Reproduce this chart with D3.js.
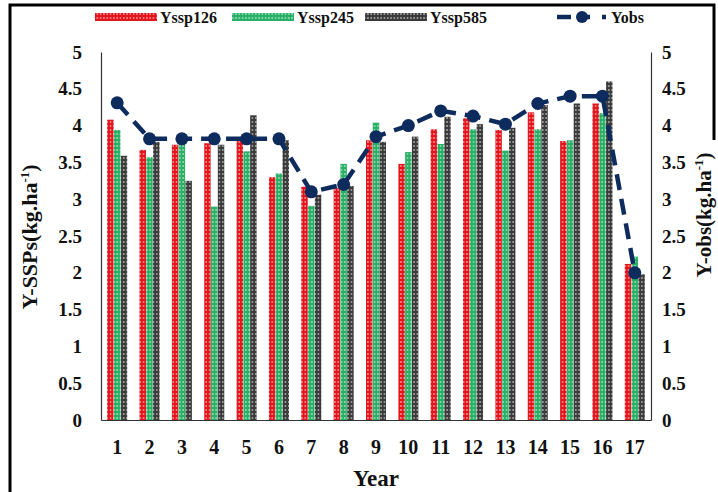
<!DOCTYPE html>
<html lang="en">
<head>
<meta charset="utf-8">
<title>Yield SSPs vs observed</title>
<script src="https://cdn.jsdelivr.net/npm/d3@7"></script>
<style>
  body { margin: 0; background: #fff; }
  svg text { font-family: "Liberation Serif", "Times New Roman", serif; font-weight: bold; fill: #111; }
</style>
</head>
<body>
<script>
// data
var years = ["1","2","3","4","5","6","7","8","9","10","11","12","13","14","15","16","17"];
var ssp126 = [4.08,3.67,3.74,3.76,3.79,3.30,3.17,3.15,3.80,3.48,3.95,4.10,3.94,4.18,3.79,4.30,2.12];
var ssp245 = [3.94,3.57,3.76,2.90,3.65,3.35,2.91,3.48,4.04,3.64,3.75,3.95,3.66,3.95,3.80,4.17,2.22];
var ssp585 = [3.59,3.78,3.25,3.74,4.14,3.80,3.06,3.18,3.78,3.85,4.12,4.02,3.97,4.28,4.30,4.60,1.98];
var yobs   = [4.31,3.82,3.82,3.82,3.82,3.82,3.10,3.20,3.85,4.00,4.20,4.13,4.02,4.30,4.40,4.40,2.00];
var seriesNames = ["Yssp126","Yssp245","Yssp585"];
var yTicks = [0,0.5,1,1.5,2,2.5,3,3.5,4,4.5,5];

var w = 718, h = 492;
var pLeft = 101, pRight = 651, pTop = 52, pBottom = 420;

var svg = d3.select("body").append("svg")
    .attr("width", w)
    .attr("height", h);

// patterned fills
var defs = svg.append("defs");
function dotPattern(id, base, dot) {
    var p = defs.append("pattern")
        .attr("id", id)
        .attr("patternUnits", "userSpaceOnUse")
        .attr("width", 3.3)
        .attr("height", 4);
    p.append("rect").attr("width", 3.3).attr("height", 4).attr("fill", base);
    p.append("circle").attr("cx", 1.65).attr("cy", 2).attr("r", 0.8).attr("fill", dot);
}
dotPattern("pRed", "#e3161d", "#ffd5d5");
dotPattern("pGreen", "#27b066", "#d8f5e2");
dotPattern("pDark", "#3b3b3b", "#e6e6e6");
var fills = ["url(#pRed)", "url(#pGreen)", "url(#pDark)"];

// outer frame (top, left, right part)
svg.append("path")
    .attr("d", "M10,492 L10,5 L714,5 L714,140")
    .attr("fill", "none")
    .attr("stroke", "#000")
    .attr("stroke-width", 3);

var x0 = d3.scaleBand().domain(years).range([pLeft, pRight]).paddingInner(0.36).paddingOuter(0.18);
var x1 = d3.scaleBand().domain(seriesNames).range([0, x0.bandwidth()]).padding(0.05);
var y = d3.scaleLinear().domain([0, 5]).range([pBottom, pTop]);
var yR = d3.scaleLinear().domain([0, 5]).range([pBottom, pTop]);

var allSeries = [ssp126, ssp245, ssp585];

// bars
allSeries.forEach(function(vals, s) {
    svg.append("g").selectAll("rect")
        .data(vals)
        .enter()
        .append("rect")
        .attr("x", function(d, i){ return x0(years[i]) + x1(seriesNames[s]); })
        .attr("y", function(d){ return y(d); })
        .attr("width", x1.bandwidth())
        .attr("height", function(d){ return pBottom - y(d); })
        .attr("fill", fills[s]);
});

// axes
var fmt = function(d){ return String(d); };
var gL = svg.append("g").attr("transform", "translate(" + pLeft + ",0)")
    .call(d3.axisLeft(y).tickValues(yTicks).tickFormat(fmt).tickSize(0).tickPadding(19));
var gR = svg.append("g").attr("transform", "translate(" + pRight + ",0)")
    .call(d3.axisRight(yR).tickValues(yTicks).tickFormat(fmt).tickSize(0).tickPadding(11));
var gB = svg.append("g").attr("transform", "translate(0," + pBottom + ")")
    .call(d3.axisBottom(x0).tickSize(0).tickPadding(20));
[gL, gR, gB].forEach(function(g) {
    g.select(".domain").attr("stroke", "#333").attr("stroke-width", 1.2);
    g.selectAll("text")
        .style("font-family", "'Liberation Serif', serif")
        .style("font-weight", "bold")
        .style("font-size", "19px")
        .attr("fill", "#111");
});
gB.selectAll("text").style("font-size", "20px");

// Yobs line
var line = d3.line()
    .x(function(d, i){ return x0(years[i]) + x0.bandwidth() / 2; })
    .y(function(d){ return yR(d); });
svg.append("path")
    .datum(yobs)
    .attr("d", line)
    .attr("fill", "none")
    .attr("stroke", "#0e2b5e")
    .attr("stroke-width", 4.5)
    .attr("stroke-dasharray", "16,9");
svg.append("g").selectAll("circle")
    .data(yobs)
    .enter()
    .append("circle")
    .attr("cx", function(d, i){ return x0(years[i]) + x0.bandwidth() / 2; })
    .attr("cy", function(d){ return yR(d); })
    .attr("r", 6.5)
    .attr("fill", "#0e2b5e");

// axis titles
var tl = svg.append("text")
    .attr("transform", "translate(37,237) rotate(-90)")
    .attr("text-anchor", "middle")
    .style("font-size", "22px");
tl.append("tspan").text("Y-SSPs(kg.ha");
tl.append("tspan").attr("dy", -8).style("font-size", "13px").text("-1");
tl.append("tspan").attr("dy", 8).text(")");

var tr = svg.append("text")
    .attr("transform", "translate(711,215) rotate(-90)")
    .attr("text-anchor", "middle")
    .style("font-size", "21px");
tr.append("tspan").text("Y-obs(kg.ha");
tr.append("tspan").attr("dy", -8).style("font-size", "13px").text("-1");
tr.append("tspan").attr("dy", 8).text(")");

svg.append("text")
    .attr("x", 376)
    .attr("y", 486)
    .attr("text-anchor", "middle")
    .style("font-size", "23px")
    .text("Year");

// legend
var legX = [95, 232, 365];
seriesNames.forEach(function(name, s) {
    svg.append("rect")
        .attr("x", legX[s])
        .attr("y", 13)
        .attr("width", 62)
        .attr("height", 8)
        .attr("fill", fills[s]);
    svg.append("text")
        .attr("x", legX[s] + 65)
        .attr("y", 23)
        .style("font-size", "16px")
        .text(name);
});
svg.append("line")
    .attr("x1", 557).attr("x2", 607)
    .attr("y1", 17).attr("y2", 17)
    .attr("stroke", "#0e2b5e")
    .attr("stroke-width", 4.5)
    .attr("stroke-dasharray", "14,9,10,12,4");
svg.append("circle")
    .attr("cx", 582).attr("cy", 17).attr("r", 6).attr("fill", "#0e2b5e");
svg.append("text")
    .attr("x", 611)
    .attr("y", 23)
    .style("font-size", "16px")
    .text("Yobs");
</script>
</body>
</html>
